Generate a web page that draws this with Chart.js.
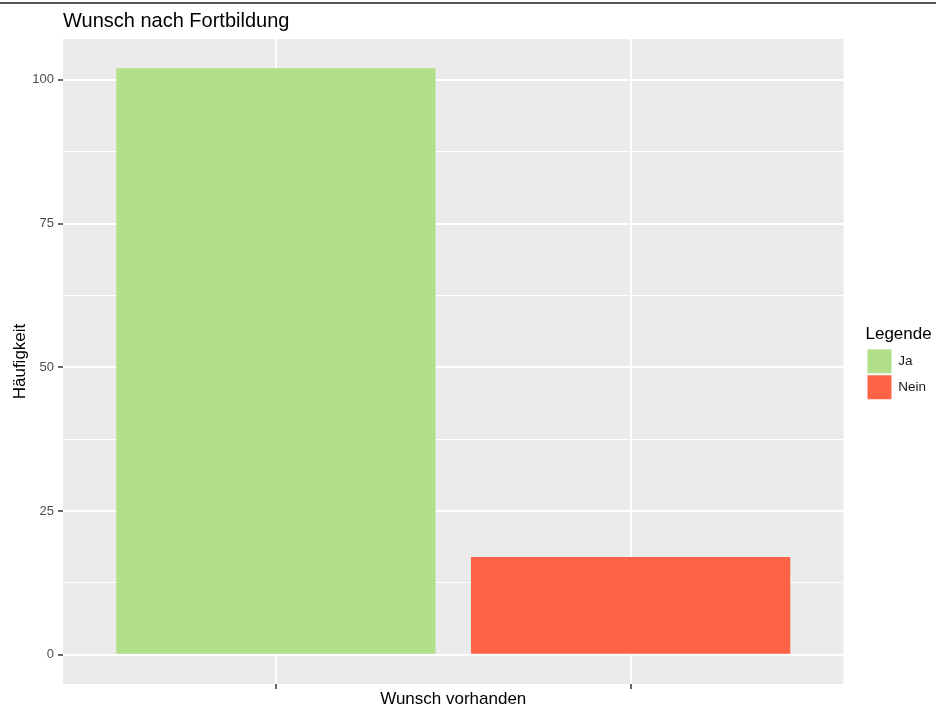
<!DOCTYPE html>
<html>
<head>
<meta charset="utf-8">
<script src="https://cdn.jsdelivr.net/npm/chart.js@4"></script>
<style>
  html, body { margin: 0; padding: 0; background: #fff; }
  #wrap { position: relative; width: 936px; height: 708px; }
  #topline { position: absolute; left: 0; top: 2px; width: 936px; height: 0; border-top: 2px solid #555; }
</style>
</head>
<body>
<div id="wrap">
  <canvas id="chart" width="936" height="708"></canvas>
  <div id="topline"></div>
</div>
<script>
const categories = ['Ja', 'Nein'];
const counts = [102, 17];
const barColors = ['#B2DF8A', '#FF6347'];
const yTicks = [0, 12.5, 25, 37.5, 50, 62.5, 75, 87.5, 100];
const yLabels = ['0', '', '25', '', '50', '', '75', '', '100'];

const FONT = "'Liberation Sans', Arial, sans-serif";

const panelBg = {
    id: 'panelBg',
    beforeDraw(chart) {
        const a = chart.chartArea;
        const ctx = chart.ctx;
        ctx.save();
        ctx.fillStyle = '#EBEBEB';
        ctx.fillRect(a.left, a.top, a.right - a.left, a.bottom - a.top);
        ctx.restore();
    }
};

const ctx = document.getElementById('chart').getContext('2d');

const chart = new Chart(ctx, {
    type: 'bar',
    data: {
        datasets: categories.map((c, i) => ({
            label: c,
            data: [{ x: i + 1, y: counts[i] }],
            backgroundColor: barColors[i],
            borderWidth: 0
        }))
    },
    options: {
        responsive: false,
        animation: false,
        grouped: false,
        barPercentage: 0.9,
        categoryPercentage: 1,
        layout: { padding: { top: 5, left: 4, right: 0, bottom: 0 } },
        plugins: {
            title: {
                display: true,
                text: 'Wunsch nach Fortbildung',
                align: 'start',
                fullSize: false,
                color: '#000',
                font: { family: FONT, size: 20, weight: 'normal' },
                padding: { top: 4, bottom: 6 }
            },
            legend: {
                position: 'right',
                align: 'center',
                title: {
                    display: true,
                    text: 'Legende',
                    position: 'start',
                    color: '#000',
                    font: { family: FONT, size: 17 },
                    padding: { top: 14, bottom: 1 }
                },
                labels: {
                    boxWidth: 24,
                    boxHeight: 24,
                    padding: 2,
                    color: '#1A1A1A',
                    font: { family: FONT, size: 13.5 }
                }
            },
            tooltip: { enabled: false }
        },
        scales: {
            x: {
                type: 'linear',
                min: 0.4,
                max: 2.6,
                offset: false,
                afterBuildTicks: s => { s.ticks = categories.map((c, i) => ({ value: i + 1 })); },
                ticks: { callback: () => '', padding: 0 },
                grid: { offset: false, color: '#FFFFFF', lineWidth: 2, tickColor: '#333', tickLength: 5, tickWidth: 1.5 },
                border: { display: false },
                title: {
                    display: true,
                    text: 'Wunsch vorhanden',
                    color: '#000',
                    font: { family: FONT, size: 17 },
                    padding: { top: 0, bottom: -2 }
                },
                afterFit: s => { s.height = 24; }
            },
            y: {
                min: -5.1,
                max: 107.1,
                afterBuildTicks: s => { s.ticks = yTicks.map(v => ({ value: v })); },
                ticks: {
                    callback: (v, i) => yLabels[i],
                    color: '#4D4D4D',
                    font: { family: FONT, size: 13 },
                    padding: 4
                },
                grid: {
                    color: '#FFFFFF',
                    lineWidth: c => (c.index % 2 === 0 ? 2 : 1),
                    tickColor: c => (c.index % 2 === 0 ? '#333' : 'rgba(0,0,0,0)'),
                    tickLength: 5,
                    tickWidth: 1.5
                },
                border: { display: false },
                title: {
                    display: true,
                    text: 'Häufigkeit',
                    color: '#000',
                    font: { family: FONT, size: 17 },
                    padding: { top: 6, bottom: 4 }
                },
                afterFit: s => { s.width = 59; }
            },
            // empty right-hand axis, only used as a gap between panel and legend
            gap: {
                type: 'linear',
                position: 'right',
                display: true,
                grid: { display: false, drawTicks: false },
                ticks: { display: false },
                border: { display: false },
                afterFit: s => { s.width = 22; }
            }
        }
    },
    plugins: [panelBg]
});
</script>
</body>
</html>
